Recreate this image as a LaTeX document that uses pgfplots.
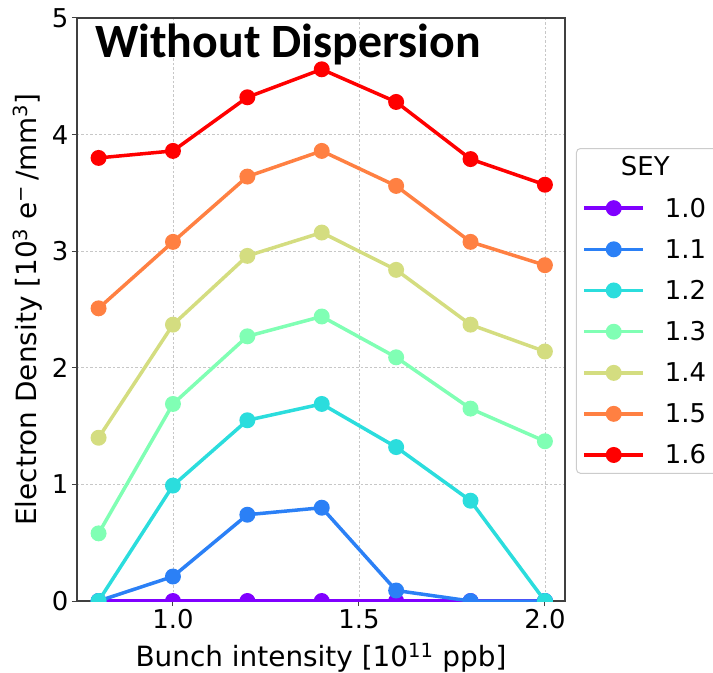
\documentclass[border=0pt]{standalone}
\usepackage{pgfplots}
\pgfplotsset{compat=1.18}
\usepackage{fontspec}
\setmainfont{DejaVu Sans}
\newfontfamily\titlefont{Carlito}
\definecolor{c10}{rgb}{0.5,0,1}
\definecolor{c11}{rgb}{0.167,0.5,0.966}
\definecolor{c12}{rgb}{0.167,0.866,0.866}
\definecolor{c13}{rgb}{0.5,1,0.707}
\definecolor{c14}{rgb}{0.833,0.866,0.5}
\definecolor{c15}{rgb}{1,0.5,0.259}
\definecolor{c16}{rgb}{1,0,0}
\begin{document}
\begin{tikzpicture}
\useasboundingbox (-77bp,-72bp) rectangle (636bp,601bp);
\begin{axis}[
  at={(0,0)}, anchor=south west,
  width=488bp, height=583bp, scale only axis,
  xmin=0.742, xmax=2.054, ymin=0, ymax=5,
  xtick={1.0,1.5,2.0}, xticklabels={1.0,1.5,2.0},
  ytick={0,1,2,3,4,5},
  /pgf/number format/assume math mode=true,
  tick label style={font=\fontsize{26}{30}\selectfont},
  label style={font=\fontsize{28}{33}\selectfont},
  tick align=outside, tick pos=left, major tick length=5bp,
  major tick style={line width=1bp, black!75},
  grid=major, grid style={dash pattern=on 2.5bp off 2bp, black!22, line width=0.7bp},
  axis line style={line width=1.2bp, black!75},
  clip marker paths=true,
  xlabel={Bunch intensity [10\textsuperscript{11} ppb]},
  ylabel={Electron Density [10\textsuperscript{3} e\textsuperscript{−}\,/mm\textsuperscript{3}]},
  xlabel style={at={(axis description cs:0.5,-0.1115)}, anchor=base},
  ylabel style={at={(axis description cs:-0.1004,0.5)}, anchor=center, rotate=0},
  every axis plot/.append style={line width=3.5bp, mark=*, mark size=6.2bp},
  legend image code/.code={\draw[mark repeat=2,mark phase=2,#1] plot coordinates {(0bp,0bp) (29.5bp,0bp) (59bp,0bp)};},
  legend style={at={(axis description cs:1.0225,0.777)}, anchor=north west,
    draw=black!20, rounded corners=4bp, line width=1bp,
    font=\fontsize{26}{30}\selectfont,
    inner xsep=6bp, inner ysep=6bp,
    row sep=16.6bp, column sep=18bp},
  legend cell align=left,
]
\addlegendimage{empty legend}
\addlegendentry{\hspace*{-44bp}SEY}
\addplot[c10] coordinates {(0.8,0) (1.0,0) (1.2,0) (1.4,0) (1.6,0) (1.8,0) (2.0,0)};
\addlegendentry{1.0\hspace*{20bp}}
\addplot[c11] coordinates {(0.8,0) (1.0,0.21) (1.2,0.74) (1.4,0.80) (1.6,0.09) (1.8,0) (2.0,0)};
\addlegendentry{1.1}
\addplot[c12] coordinates {(0.8,0) (1.0,0.99) (1.2,1.55) (1.4,1.69) (1.6,1.32) (1.8,0.86) (2.0,0)};
\addlegendentry{1.2}
\addplot[c13] coordinates {(0.8,0.58) (1.0,1.69) (1.2,2.27) (1.4,2.44) (1.6,2.09) (1.8,1.65) (2.0,1.37)};
\addlegendentry{1.3}
\addplot[c14] coordinates {(0.8,1.40) (1.0,2.37) (1.2,2.96) (1.4,3.16) (1.6,2.84) (1.8,2.37) (2.0,2.14)};
\addlegendentry{1.4}
\addplot[c15] coordinates {(0.8,2.51) (1.0,3.08) (1.2,3.64) (1.4,3.86) (1.6,3.56) (1.8,3.08) (2.0,2.88)};
\addlegendentry{1.5}
\addplot[c16] coordinates {(0.8,3.80) (1.0,3.86) (1.2,4.32) (1.4,4.56) (1.6,4.28) (1.8,3.79) (2.0,3.57)};
\addlegendentry{1.6}
\node[anchor=base west, inner sep=0pt, font=\titlefont\bfseries\fontsize{48}{54}\selectfont] at (rel axis cs:0.037,0.933) {Without Dispersion};
\end{axis}
\end{tikzpicture}
\end{document}
